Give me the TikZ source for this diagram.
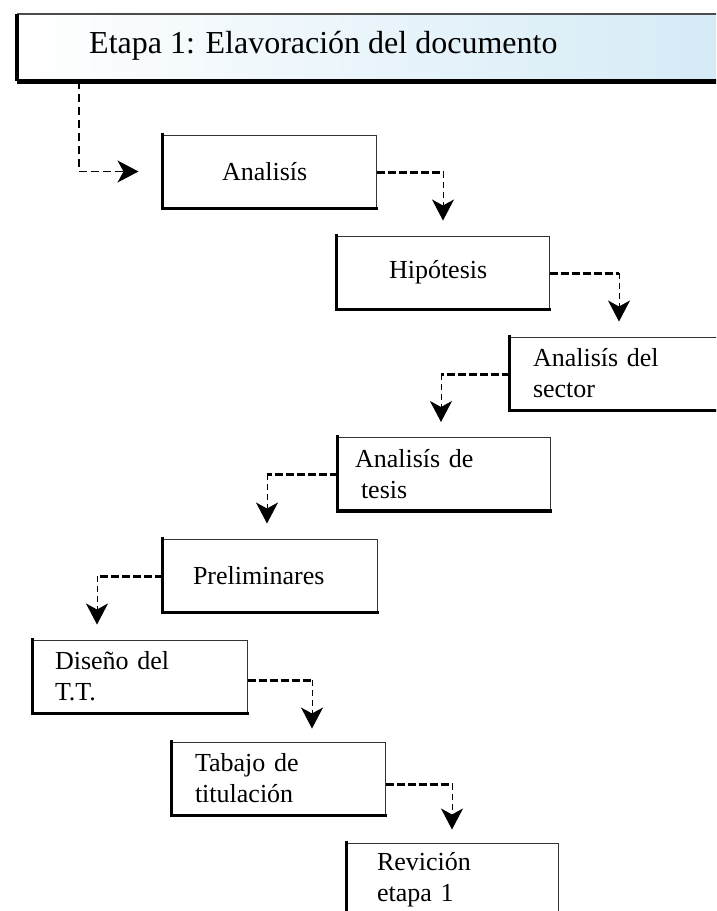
\documentclass[tikz,border=0pt]{standalone}
\usepackage{fontspec}
\setmainfont{Liberation Serif}
\usetikzlibrary{arrows.meta,calc}
\definecolor{hblue}{RGB}{212,234,246}
\begin{document}
\begin{tikzpicture}[x=1pt,y=-1pt,
  stepbox/.style={draw=black!80, line width=1pt, minimum height=73pt, inner xsep=0pt, inner ysep=0pt, align=left, font=\fontsize{26}{31}\selectfont},
  thickedge/.style={line width=3.2pt, line cap=rect},
  hdash/.style={line width=3pt, dash pattern=on 8pt off 3pt},
  vdash/.style={line width=1pt, dash pattern=on 6pt off 4pt},
  tipdown/.style={-{Stealth[length=21pt,width=22pt,inset=6pt]}}
]
\useasboundingbox (0,0) rectangle (716,911);
\clip (0,0) rectangle (716,911);

% header
\node[draw=none, minimum width=713pt, minimum height=67pt, anchor=north west, left color=white, right color=hblue, inner sep=0pt] (hdr) at (17,14) {};
\node[anchor=base west, font=\fontsize{32}{38}\selectfont, inner sep=0pt] (htext) at (89,53) {Etapa 1: Elavoración del documento};
\draw[line width=2pt, black!70] (hdr.north west) -- (hdr.north east);
\draw[line width=4pt] (hdr.north west) -- (hdr.south west);
\draw[line width=5pt] (hdr.south west) -- (hdr.south east);

% boxes
\node[stepbox, minimum width=213pt, text width=95pt] (ana) at (269.5,171.5) {Analisís};
\node[stepbox, minimum width=212pt, text width=108pt] (hip) at (443,272.5) {Hipótesis};
\node[stepbox, minimum width=213pt, text width=167pt] (sec) at (616.5,373.5) {Analisís del\\sector};
\node[stepbox, minimum width=212pt, text width=178pt] (tes) at (444,474) {Analisís de\\\hspace*{6pt}tesis};
\node[stepbox, minimum width=214pt, text width=154pt] (pre) at (270,575.5) {Preliminares};
\node[stepbox, minimum width=214pt, text width=170pt] (dis) at (140,676.5) {Diseño del\\T.T.};
\node[stepbox, minimum width=213pt, text width=167pt] (tab) at (278.5,778.5) {Tabajo de\\titulación};
\node[stepbox, minimum width=211pt, text width=151pt] (rev) at (452.5,879.5) {Revición\\etapa 1};

\foreach \b in {ana,hip,sec,tes,pre,dis,tab,rev}
  \draw[thickedge] (\b.north west) -- (\b.south west) -- (\b.south east);

% connector from header
\coordinate (k0) at (79,171.5);
\draw[line width=2.5pt, dash pattern=on 8pt off 5pt] (hdr.south -| k0) -- (k0);
\draw[line width=1.2pt, dash pattern=on 8pt off 4pt, tipdown] (k0) -- ($(ana.west |- k0)+(-24,0)$);

% turning points
\coordinate (k1) at (443,172);
\coordinate (k2) at (619,273);
\coordinate (k3) at (441,374);
\coordinate (k4) at (267,474);
\coordinate (k5) at (97,576);
\coordinate (k6) at (312,680);
\coordinate (k7) at (452,784);

\draw[hdash] (ana.east |- k1) -- (k1);
\draw[vdash, tipdown] (k1) -- ($(hip.north -| k1)+(0,-15)$);
\draw[hdash] (hip.east |- k2) -- (k2);
\draw[vdash, tipdown] (k2) -- ($(sec.north -| k2)+(0,-15)$);
\draw[hdash] (sec.west |- k3) -- (k3);
\draw[vdash, tipdown] (k3) -- ($(tes.north -| k3)+(0,-15)$);
\draw[hdash] (tes.west |- k4) -- (k4);
\draw[vdash, tipdown] (k4) -- ($(pre.north -| k4)+(0,-15)$);
\draw[hdash] (pre.west |- k5) -- (k5);
\draw[vdash, tipdown] (k5) -- ($(dis.north -| k5)+(0,-15)$);
\draw[hdash] (dis.east |- k6) -- (k6);
\draw[vdash, tipdown] (k6) -- ($(tab.north -| k6)+(0,-13)$);
\draw[hdash] (tab.east |- k7) -- (k7);
\draw[vdash, tipdown] (k7) -- ($(rev.north -| k7)+(0,-13)$);
\end{tikzpicture}
\end{document}
